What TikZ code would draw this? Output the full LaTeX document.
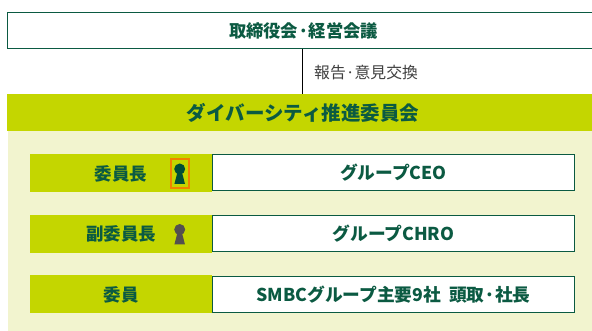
\documentclass[tikz,border=0pt]{standalone}
\usepackage{fontspec}
\setmainfont{Noto Sans CJK JP}
\definecolor{dkgreen}{HTML}{0B5A42}
\definecolor{lime}{HTML}{C4D600}
\definecolor{pale}{HTML}{F2F4CF}
\definecolor{keygray}{HTML}{54504F}
\definecolor{keygreen}{HTML}{004D38}
\definecolor{hl}{HTML}{F08300}
\tikzset{x=1pt,y=-1pt,
  whitebox/.style={draw=dkgreen,line width=1pt,fill=white,inner sep=0pt,text=dkgreen,font=\fontsize{17.7}{17.7}\bfseries},
  limeband/.style={fill=lime,inner sep=0pt,text=dkgreen,font=\fontsize{17.5}{17.5}\bfseries},
  rowlabel/.style={text=dkgreen,inner sep=0pt,font=\fontsize{17.5}{17.5}\bfseries},
  plain/.style={inner sep=0pt,text=black!75,font=\fontsize{15.8}{15.8}\selectfont},
  keyhole/.pic={\fill (0,0) circle (5.5); \fill (-2.2,3) -- (2.2,3) -- (5.3,15) -- (-5.3,15) -- cycle;}
}
\begin{document}
\begin{tikzpicture}
\useasboundingbox (0,0) rectangle (592,331);
\fill[white] (0,0) rectangle (592,331);
\fill[pale] (8,131) rectangle (592,331);
\node[whitebox,minimum width=592pt,minimum height=36pt,font=\fontsize{17.3}{17.3}\bfseries] (board) at (303.5,30.5) {取締役会·経営会議};
\node[limeband,minimum width=592pt,minimum height=37pt,font=\fontsize{19.5}{19.5}\bfseries] (dc) at (303,112.5) {ダイバーシティ推進委員会};
\coordinate (cx) at (302,0);
\draw[black,line width=0.8pt] (board.south -| cx) -- (dc.north -| cx);
\node[plain,anchor=west] (rep) at (314,72.5) {報告·意見交換};
\node[limeband,minimum width=182pt,minimum height=38pt] (r1) at (121,173) {};
\node[limeband,minimum width=182pt,minimum height=38pt] (r2) at (121,234) {};
\node[limeband,minimum width=182pt,minimum height=38pt] (r3) at (121,294) {};
\node[rowlabel] (l1) at (121,174) {委員長};
\node[rowlabel] (l2) at (121,234) {副委員長};
\node[rowlabel] (l3) at (121,294.5) {委員};
\node[whitebox,minimum width=362pt,minimum height=36pt] (v1) at (393.5,173) {グループCEO};
\node[whitebox,minimum width=362pt,minimum height=36pt] (v2) at (393.5,234) {グループCHRO};
\node[whitebox,minimum width=362pt,minimum height=36pt] (v3) at (393.5,294.5) {SMBCグループ主要9社\ \ 頭取·社長};
\fill[keygreen] (179.7,169) pic {keyhole};
\draw[hl,line width=2pt] (170.6,159.2) rectangle (188.8,187.8);
\fill[keygray] (179.7,229.5) pic {keyhole};
\end{tikzpicture}
\end{document}
